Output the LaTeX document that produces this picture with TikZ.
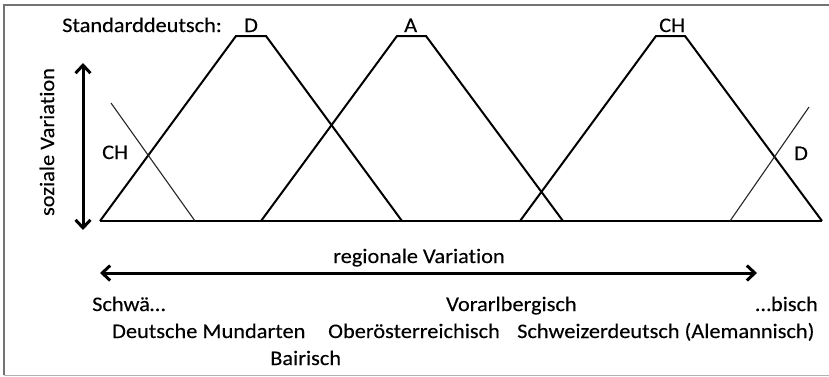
\documentclass[tikz,border=0pt]{standalone}
\usepackage{fontspec}
\setmainfont{Carlito}[FakeStretch=1.08, FakeBold=0.2, Ligatures=NoCommon]
\usetikzlibrary{arrows.meta}
\begin{document}
\begin{tikzpicture}[x=1pt,y=-1pt,
  tri/.style={line width=2pt, line join=miter},
  thinline/.style={line width=1.1pt, black!85},
  bigarrow/.style={line width=3pt, {Straight Barb[length=8pt,width=15pt]}-{Straight Barb[length=8pt,width=15pt]}},
  lbl/.style={anchor=base west, inner sep=0pt, font=\fontsize{20.7}{25}\selectfont}]
\useasboundingbox (0,0) rectangle (829,376);
% frame
\draw[black!55, line width=2pt] (829,5) -- (4,5) -- (4,375);
\draw[black!30, line width=1pt] (4,375) -- (829,375);
% baseline
\coordinate (b0) at (100,221);
\coordinate (b1) at (822,221);
\draw[tri] (b0) -- (b1);
% trapezoids
\draw[tri] (100,221) -- (236,36) -- (266,36) -- (402,221);
\draw[tri] (261,221) -- (397,36) -- (426,36) -- (563,221);
\draw[tri] (520,221) -- (656,36) -- (685,36) -- (822,221);
% thin lines
\draw[thinline] (111,103) -- (195,221);
\draw[thinline] (809,107) -- (730,221);
% arrows
\coordinate (v0) at (83,63);
\coordinate (v1) at (83,230);
\draw[bigarrow] (v0) -- (v1);
\coordinate (h0) at (100,273);
\coordinate (h1) at (757,273);
\draw[bigarrow] (h0) -- (h1);
% labels
\node[lbl] (std) at (62,32) {Standarddeutsch:};
\node[lbl] (lD) at (244,32) {D};
\node[lbl] (lA) at (404,32) {A};
\node[lbl] (lCH) at (659,32) {CH};
\node[lbl] (cCH) at (102,159) {CH};
\node[lbl] (cD) at (794,160) {D};
\node[inner sep=0pt, rotate=90, font=\fontsize{20.7}{25}\selectfont] (soz) at (47,142) {soziale Variation};
\node[lbl] (reg) at (333,263) {regionale Variation};
\node[lbl] (schwa) at (92,311) {Schwä…};
\node[lbl] (vor) at (446,311) {Vorarlbergisch};
\node[lbl, anchor=base east] (bisch) at (818,311) {…bisch};
\node[lbl] (deu) at (112,338) {Deutsche Mundarten};
\node[lbl] (obe) at (328,338) {Oberösterreichisch};
\node[lbl] (sch) at (517,338) {Schweizerdeutsch (Alemannisch)};
\node[lbl] (bai) at (270,365) {Bairisch};
\end{tikzpicture}
\end{document}
